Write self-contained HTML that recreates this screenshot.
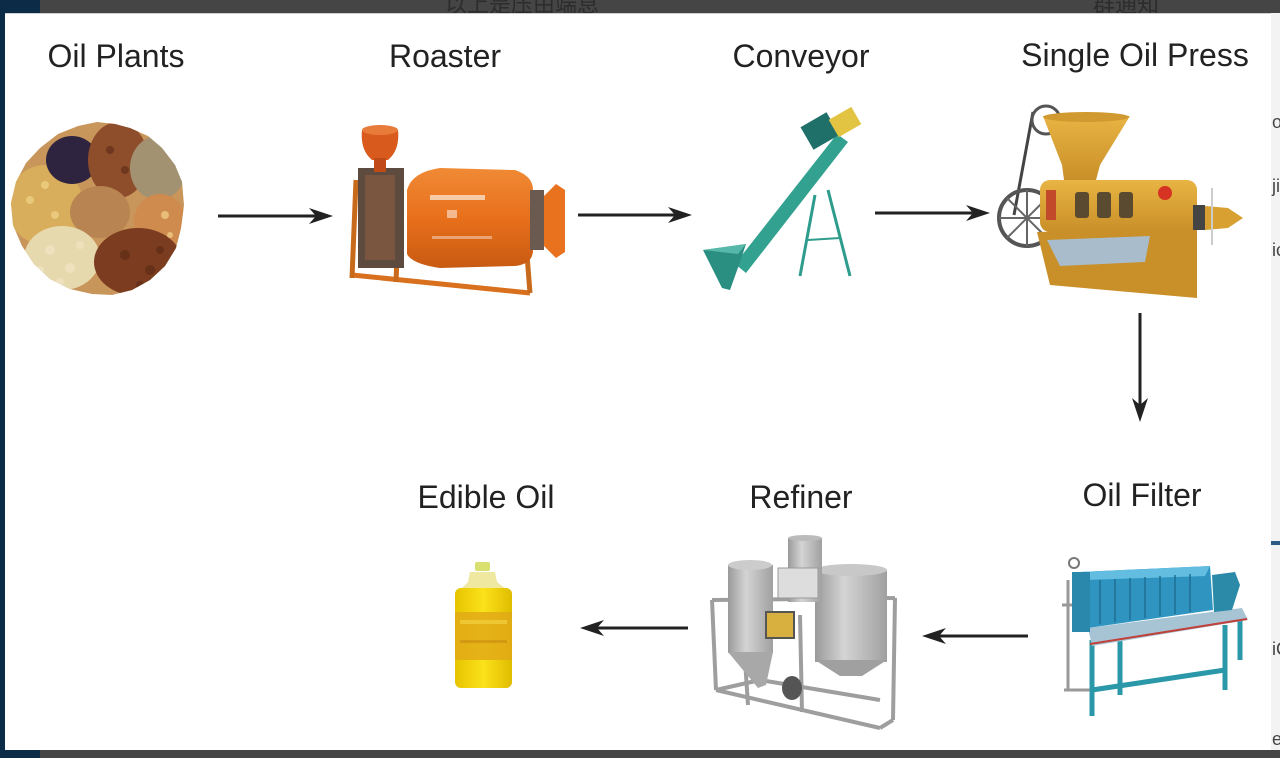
<!DOCTYPE html>
<html><head><meta charset="utf-8"><style>
html,body{margin:0;padding:0;background:#454545;}
svg{display:block;}
text{font-family:"Liberation Sans","Noto Sans CJK SC",sans-serif;}
</style></head><body>
<svg width="1280" height="758" viewBox="0 0 1280 758" xmlns="http://www.w3.org/2000/svg">
<defs>
  <clipPath id="nutclip"><path d="M97,122 L115,124 L130,128 L148,136 L162,148 L175,165 L182,182 L184,205 L181,228 L176,248 L165,266 L150,280 L132,290 L112,295 L92,294 L70,289 L50,279 L34,264 L22,246 L13,225 L11,203 L16,182 L26,163 L40,148 L58,134 L78,126 Z"/></clipPath>
  <linearGradient id="drum" x1="0" y1="0" x2="0" y2="1">
    <stop offset="0" stop-color="#f08a35"/><stop offset="0.5" stop-color="#e8701c"/><stop offset="1" stop-color="#c85a12"/>
  </linearGradient>
  <linearGradient id="tank" x1="0" y1="0" x2="1" y2="0">
    <stop offset="0" stop-color="#9a9a9a"/><stop offset="0.4" stop-color="#d4d4d4"/><stop offset="1" stop-color="#a0a0a0"/>
  </linearGradient>
  <linearGradient id="gold" x1="0" y1="0" x2="0" y2="1">
    <stop offset="0" stop-color="#e8b443"/><stop offset="1" stop-color="#c98f28"/>
  </linearGradient>
  <linearGradient id="oil" x1="0" y1="0" x2="1" y2="0">
    <stop offset="0" stop-color="#e6c400"/><stop offset="0.5" stop-color="#fbe21a"/><stop offset="1" stop-color="#e0bc00"/>
  </linearGradient>
</defs>

<!-- background chrome -->
<rect x="0" y="0" width="1280" height="758" fill="#454545"/>
<text x="445" y="12" font-size="22" fill="#2c2c2c">以上是压由端息</text>
<text x="1093" y="12" font-size="22" fill="#2c2c2c">群通知</text>
<rect x="0" y="0" width="40" height="13" fill="#0b2b47"/>
<rect x="0" y="0" width="5" height="758" fill="#0b2b47"/>
<rect x="0" y="750" width="40" height="8" fill="#0b2b47"/>
<rect x="1271" y="13" width="9" height="737" fill="#f3f3f3"/>
<rect x="1271" y="541" width="9" height="4" fill="#2d5b86"/>
<text x="1272" y="128" font-size="18" fill="#444">o</text>
<text x="1272" y="192" font-size="18" fill="#444">ji</text>
<text x="1272" y="256" font-size="18" fill="#444">ic</text>
<text x="1272" y="655" font-size="18" fill="#444">iC</text>
<text x="1272" y="745" font-size="18" fill="#444">e</text>
<rect x="5" y="13" width="1266" height="737" fill="#ffffff"/>
<rect x="5" y="13" width="1266" height="1" fill="#cfcfcf"/>

<!-- labels -->
<g font-size="32" fill="#222" text-anchor="middle">
  <text x="116" y="67">Oil Plants</text>
  <text x="445" y="67">Roaster</text>
  <text x="801" y="67">Conveyor</text>
  <text x="1135" y="66">Single Oil Press</text>
  <text x="486" y="508">Edible Oil</text>
  <text x="801" y="508">Refiner</text>
  <text x="1142" y="506">Oil Filter</text>
</g>

<!-- arrows -->
<g stroke="#222" stroke-width="3" fill="none">
  <line x1="218" y1="216" x2="318" y2="216"/>
  <line x1="578" y1="215" x2="678" y2="215"/>
  <line x1="875" y1="213" x2="975" y2="213"/>
  <line x1="1140" y1="313" x2="1140" y2="405"/>
  <line x1="688" y1="628" x2="595" y2="628"/>
  <line x1="1028" y1="636" x2="937" y2="636"/>
</g>
<g fill="#222">
  <path d="M333,216 l-24,-8 l7,8 l-7,8 z"/>
  <path d="M692,215 l-24,-8 l7,8 l-7,8 z"/>
  <path d="M990,213 l-24,-8 l7,8 l-7,8 z"/>
  <path d="M1140,422 l-8,-24 l8,7 l8,-7 z"/>
  <path d="M580,628 l24,-8 l-7,8 l7,8 z"/>
  <path d="M922,636 l24,-8 l-7,8 l7,8 z"/>
</g>

<!-- Oil plants (nuts) -->
<g clip-path="url(#nutclip)">
  <rect x="5" y="115" width="185" height="185" fill="#c8955a"/>
  <ellipse cx="45" cy="205" rx="38" ry="40" fill="#d8ae5c"/>
  <ellipse cx="72" cy="160" rx="26" ry="24" fill="#2e2440"/>
  <ellipse cx="118" cy="160" rx="30" ry="38" fill="#8e4e2c"/>
  <ellipse cx="158" cy="168" rx="28" ry="32" fill="#a39272"/>
  <ellipse cx="160" cy="222" rx="26" ry="28" fill="#cf8a4e"/>
  <ellipse cx="100" cy="212" rx="30" ry="26" fill="#b88552"/>
  <ellipse cx="62" cy="258" rx="38" ry="32" fill="#e6d9ae"/>
  <ellipse cx="138" cy="262" rx="44" ry="34" fill="#7c3c20"/>
  <g fill="#f0e6c4" opacity="0.7">
    <circle cx="50" cy="250" r="5"/><circle cx="70" cy="268" r="5"/><circle cx="40" cy="270" r="4"/><circle cx="80" cy="245" r="4"/><circle cx="60" cy="282" r="4"/>
  </g>
  <g fill="#5a2814" opacity="0.6">
    <circle cx="125" cy="255" r="5"/><circle cx="150" cy="270" r="5"/><circle cx="140" cy="285" r="4"/><circle cx="160" cy="250" r="4"/><circle cx="110" cy="150" r="4"/><circle cx="125" cy="170" r="4"/>
  </g>
  <g fill="#f2d58a" opacity="0.7">
    <circle cx="30" cy="200" r="4"/><circle cx="45" cy="185" r="4"/><circle cx="55" cy="215" r="4"/><circle cx="165" cy="215" r="4"/><circle cx="170" cy="235" r="3"/>
  </g>
</g>

<!-- Roaster -->
<g>
  <line x1="352" y1="275" x2="530" y2="293" stroke="#d8701e" stroke-width="5"/>
  <line x1="356" y1="180" x2="352" y2="278" stroke="#c86a1c" stroke-width="5"/>
  <line x1="400" y1="180" x2="396" y2="282" stroke="#c86a1c" stroke-width="5"/>
  <line x1="527" y1="255" x2="530" y2="293" stroke="#c86a1c" stroke-width="5"/>
  <rect x="358" y="168" width="46" height="100" fill="#5e4b40"/>
  <rect x="365" y="175" width="30" height="85" fill="#7a5540"/>
  <path d="M362,130 Q360,150 372,160 L388,160 Q400,150 398,130 Z" fill="#d85a1c"/>
  <rect x="374" y="158" width="12" height="14" fill="#c04a18"/>
  <ellipse cx="380" cy="130" rx="18" ry="5" fill="#e87a3a"/>
  <path d="M407,190 Q412,172 440,168 L515,170 Q533,176 533,190 L533,250 Q533,264 515,266 L440,268 Q412,264 407,254 Z" fill="url(#drum)"/>
  <rect x="530" y="190" width="14" height="60" fill="#6a5a50"/>
  <path d="M544,196 L556,184 L565,190 L565,252 L556,258 L544,246 Z" fill="#e8721e"/>
  <rect x="430" y="195" width="55" height="5" fill="#fff" opacity="0.6"/>
  <rect x="447" y="210" width="10" height="8" fill="#fff" opacity="0.5"/>
  <rect x="432" y="236" width="60" height="3" fill="#fff" opacity="0.4"/>
</g>

<!-- Conveyor -->
<g>
  <line x1="815" y1="195" x2="800" y2="276" stroke="#2e9c8c" stroke-width="3"/>
  <line x1="828" y1="190" x2="850" y2="276" stroke="#2e9c8c" stroke-width="3"/>
  <line x1="808" y1="240" x2="840" y2="238" stroke="#2e9c8c" stroke-width="2"/>
  <path d="M735,264 L837,134 L848,142 L746,273 Z" fill="#33a190"/>
  <path d="M703,250 L746,244 L740,262 L730,290 L722,288 Z" fill="#2a8f80"/>
  <path d="M703,250 L746,244 L738,254 Z" fill="#55b8a8"/>
  <rect x="805" y="118" width="30" height="26" fill="#20706a" transform="rotate(-30 820 131)"/>
  <rect x="832" y="112" width="26" height="20" fill="#e2c442" transform="rotate(-30 845 122)"/>
</g>

<!-- Single oil press -->
<g>
  <line x1="1033" y1="112" x2="1014" y2="215" stroke="#444" stroke-width="3"/>
  <circle cx="1046" cy="120" r="14" fill="none" stroke="#555" stroke-width="3"/>
  <circle cx="1027" cy="218" r="28" fill="none" stroke="#555" stroke-width="4"/>
  <g stroke="#666" stroke-width="2">
    <line x1="1027" y1="190" x2="1027" y2="246"/><line x1="999" y1="218" x2="1055" y2="218"/>
    <line x1="1007" y1="198" x2="1047" y2="238"/><line x1="1007" y1="238" x2="1047" y2="198"/>
  </g>
  <path d="M1037,232 L1197,228 L1197,298 L1050,285 Z" fill="#c98f28"/>
  <path d="M1047,240 L1150,236 L1145,262 L1060,266 Z" fill="#a8bccc"/>
  <rect x="1040" y="180" width="157" height="52" rx="10" fill="url(#gold)"/>
  <g fill="#5a4a30">
    <rect x="1075" y="192" width="14" height="26" rx="3"/>
    <rect x="1097" y="192" width="14" height="26" rx="3"/>
    <rect x="1119" y="192" width="14" height="26" rx="3"/>
  </g>
  <rect x="1046" y="190" width="10" height="30" fill="#c24a2a"/>
  <circle cx="1165" cy="193" r="7" fill="#d63322"/>
  <path d="M1043,116 L1130,116 L1100,165 L1096,180 L1064,180 L1062,165 Z" fill="url(#gold)"/>
  <ellipse cx="1086" cy="117" rx="43" ry="5" fill="#d09a30"/>
  <rect x="1193" y="205" width="12" height="25" fill="#444"/>
  <path d="M1205,206 L1228,208 L1243,218 L1228,228 L1205,230 Z" fill="#d8a030"/>
  <line x1="1212" y1="188" x2="1212" y2="245" stroke="#ccc" stroke-width="2"/>
</g>

<!-- Oil filter -->
<g>
  <g stroke="#999" stroke-width="3" fill="none">
    <line x1="1068" y1="580" x2="1068" y2="690"/>
    <path d="M1062,605 L1080,605"/>
    <path d="M1064,690 L1090,690"/>
  </g>
  <circle cx="1074" cy="563" r="5" fill="none" stroke="#777" stroke-width="2"/>
  <g stroke="#2a98a8" stroke-width="5">
    <line x1="1092" y1="640" x2="1092" y2="716"/>
    <line x1="1120" y1="640" x2="1120" y2="695"/>
    <line x1="1225" y1="625" x2="1225" y2="690"/>
    <line x1="1240" y1="620" x2="1240" y2="660"/>
    <line x1="1092" y1="690" x2="1225" y2="670"/>
  </g>
  <path d="M1088,628 L1242,608 L1248,620 L1092,646 Z" fill="#a6c4d4"/>
  <line x1="1090" y1="644" x2="1247" y2="619" stroke="#c0403a" stroke-width="2"/>
  <path d="M1080,572 L1210,566 L1213,610 L1088,628 Z" fill="#2f95c0"/>
  <path d="M1080,572 L1210,566 L1205,576 L1085,580 Z" fill="#62bde0"/>
  <g stroke="#1f6f92" stroke-width="1.5">
    <line x1="1100" y1="580" x2="1100" y2="624"/><line x1="1115" y1="579" x2="1115" y2="622"/>
    <line x1="1130" y1="578" x2="1130" y2="620"/><line x1="1145" y1="577" x2="1145" y2="618"/>
    <line x1="1160" y1="576" x2="1160" y2="616"/><line x1="1175" y1="575" x2="1175" y2="614"/>
    <line x1="1190" y1="574" x2="1190" y2="612"/>
  </g>
  <rect x="1072" y="572" width="18" height="60" fill="#2a88ac"/>
  <path d="M1212,575 L1235,572 L1240,585 L1232,610 L1214,612 Z" fill="#2a8aa8"/>
</g>

<!-- Refiner -->
<g>
  <g stroke="#9e9e9e" stroke-width="4" fill="none">
    <line x1="712" y1="600" x2="895" y2="598"/>
    <line x1="712" y1="600" x2="716" y2="690"/>
    <line x1="716" y1="690" x2="880" y2="728"/>
    <line x1="895" y1="598" x2="893" y2="720"/>
    <line x1="880" y1="728" x2="893" y2="720"/>
    <line x1="745" y1="660" x2="748" y2="705"/>
    <line x1="800" y1="615" x2="802" y2="712"/>
    <line x1="716" y1="690" x2="760" y2="680"/>
    <line x1="760" y1="680" x2="880" y2="700"/>
  </g>
  <rect x="728" y="565" width="45" height="88" fill="url(#tank)"/>
  <ellipse cx="750" cy="565" rx="22" ry="5" fill="#ccc"/>
  <path d="M728,652 L773,652 L766,685 L758,688 Z" fill="#a8a8a8"/>
  <rect x="815" y="570" width="72" height="92" fill="url(#tank)"/>
  <ellipse cx="851" cy="570" rx="36" ry="6" fill="#c8c8c8"/>
  <path d="M815,660 L887,660 L862,676 L840,676 Z" fill="#a0a0a0"/>
  <rect x="788" y="538" width="34" height="64" fill="url(#tank)"/>
  <ellipse cx="805" cy="538" rx="17" ry="3" fill="#bbb"/>
  <rect x="778" y="568" width="40" height="30" fill="#ddd" stroke="#999"/>
  <rect x="766" y="612" width="28" height="26" fill="#d8b040" stroke="#555" stroke-width="2"/>
  <ellipse cx="792" cy="688" rx="10" ry="12" fill="#555"/>
</g>

<!-- Edible oil bottle -->
<g>
  <path d="M470,572 L495,572 L497,582 L510,592 L458,592 L468,582 Z" fill="#eee8a0"/>
  <rect x="475" y="562" width="15" height="9" rx="2" fill="#d9e070"/>
  <rect x="455" y="588" width="57" height="100" rx="6" fill="url(#oil)"/>
  <rect x="455" y="612" width="57" height="48" fill="#e0a818" opacity="0.8"/>
  <rect x="460" y="620" width="47" height="4" fill="#f4d040" opacity="0.7"/>
  <rect x="460" y="640" width="47" height="3" fill="#c88a10" opacity="0.6"/>
</g>
</svg>
</body></html>
